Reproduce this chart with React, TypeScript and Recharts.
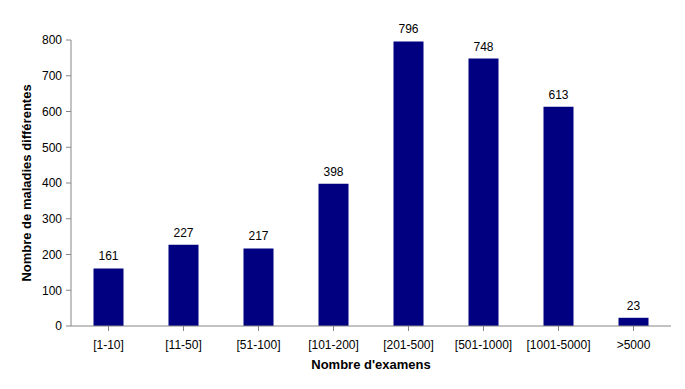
import React from 'react';
import { BarChart, Bar, XAxis, YAxis, LabelList, Label } from 'recharts';

const categories = ['[1-10]', '[11-50]', '[51-100]', '[101-200]', '[201-500]', '[501-1000]', '[1001-5000]', '>5000'];
const values = [161, 227, 217, 398, 796, 748, 613, 23];
const yTicks = [0, 100, 200, 300, 400, 500, 600, 700, 800];

const data = categories.map((c, i) => ({ name: c, value: values[i] }));

const FONT = '"Liberation Sans", Arial, sans-serif';
const AXIS = '#868686';

export default function App() {
  return (
    <div style={{ position: 'absolute', left: 0, top: 0, width: 685, height: 389, background: '#fff' }}>
      <BarChart
        width={685}
        height={389}
        data={data}
        margin={{ top: 40, right: 14, bottom: 0, left: 0 }}
        barCategoryGap="30%"
      >
        <XAxis
          dataKey="name"
          stroke={AXIS}
          tickLine={{ stroke: AXIS }}
          tickSize={5}
          tickMargin={9}
          height={63}
          interval={0}
          tick={{ fill: '#000', fontSize: 12, fontFamily: FONT }}
        >
          <Label
            value="Nombre d'examens"
            position="insideBottom"
            offset={20}
            style={{ fill: '#000', fontSize: 13, fontWeight: 'bold', fontFamily: FONT }}
          />
        </XAxis>
        <YAxis
          domain={[0, 800]}
          ticks={yTicks}
          stroke={AXIS}
          tickLine={{ stroke: AXIS }}
          tickSize={5}
          tickMargin={4}
          width={71}
          tick={{ fill: '#000', fontSize: 12, fontFamily: FONT }}
        >
          <Label
            value="Nombre de maladies différentes"
            angle={-90}
            position="insideLeft"
            offset={26}
            style={{ fill: '#000', fontSize: 13, fontWeight: 'bold', fontFamily: FONT, textAnchor: 'middle' }}
          />
        </YAxis>
        <Bar dataKey="value" fill="#000080" isAnimationActive={false}>
          <LabelList
            dataKey="value"
            position="top"
            offset={8}
            style={{ fill: '#000', fontSize: 12, fontFamily: FONT }}
          />
        </Bar>
      </BarChart>
    </div>
  );
}
